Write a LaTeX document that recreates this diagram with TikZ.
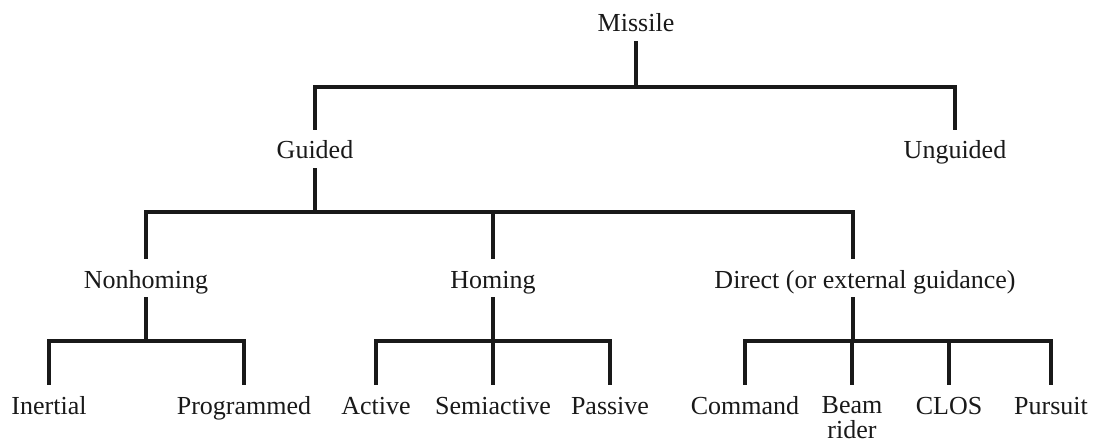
\documentclass[tikz,border=0pt]{standalone}
\usepackage{fontspec}
\setmainfont{Liberation Serif}
\usetikzlibrary{positioning}

\begin{document}
\begin{tikzpicture}[x=0.02cm,y=-0.02cm]
	\tikzstyle{main}=[anchor=base, inner xsep=0pt, inner ysep=0.16cm, text height=0.42cm, text depth=0.02cm, font=\fontsize{14.8}{15}\selectfont, text=black!90]
	\tikzstyle{connect}=[line width=1.8pt, draw=black!90]
	\useasboundingbox (0,0) rectangle (1098,442);
	  % top levels
	  \node[main] (miss) at (636,32) {Missile};
	  \node[main] (guid) at (315,159) {Guided};
	  \node[main] (ungd) at (955,159) {Unguided};
	  \node[main] (nonh) at (146,288) {Nonhoming};
	  \node[main] (homi) at (493,288) {Homing};
	  \node[main] (dir) at (865,288) {Direct (or external guidance)};
	  % leaves
	  \node[main] (iner) at (49,414) {Inertial};
	  \node[main] (prog) at (244,414) {Programmed};
	  \node[main] (acti) at (376,414) {Active};
	  \node[main] (semi) at (493,414) {Semiactive};
	  \node[main] (pass) at (610,414) {Passive};
	  \node[main] (comm) at (745,414) {Command};
	  \node[main, align=center, text height=0.9cm, font=\fontsize{14.8}{14}\selectfont] (beam) at (852,438) {Beam\\rider};
	  \node[main] (clos) at (949,414) {CLOS};
	  \node[main] (purs) at (1051,414) {Pursuit};

	  \coordinate (j1) at (636,87);
	  \coordinate (j2) at (315,212);
	  \coordinate (n3) at (146,341);
	  \coordinate (h3) at (493,341);
	  \coordinate (d3) at (853,341);

	  \path (miss) edge [connect] (j1)
			(guid) edge [connect] (j2);
	  \draw[connect] (guid) |- (j1) -| (ungd);
	  \draw[connect] (nonh) |- (j2) -| (dir.north -| d3);
	  \draw[connect] (j2 -| homi) -- (homi);

	  \path (nonh) edge [connect] (n3)
			(homi) edge [connect] (h3)
			(dir.south -| d3) edge [connect] (d3);
	  \draw[connect] (iner) |- (n3) -| (prog);
	  \draw[connect] (acti) |- (h3) -| (pass);
	  \draw[connect] (semi) -- (h3);
	  \draw[connect] (comm) |- (d3) -| (purs);
	  \draw[connect] (beam) -- (beam |- d3);
	  \draw[connect] (clos) -- (clos |- d3);

	\end{tikzpicture}
\end{document}
